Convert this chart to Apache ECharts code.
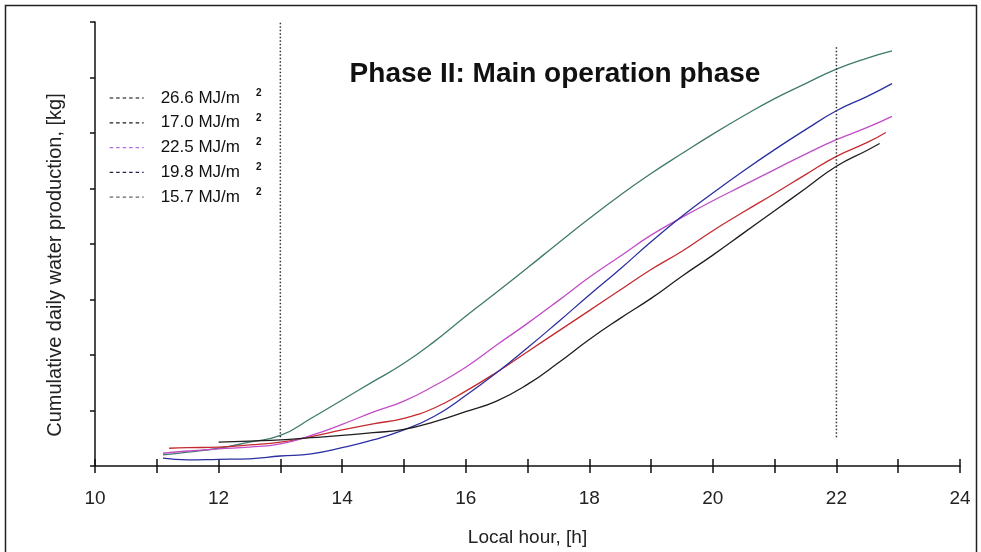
<!DOCTYPE html>
<html>
<head>
<meta charset="utf-8">
<script src="https://cdn.jsdelivr.net/npm/echarts@6/dist/echarts.min.js"></script>
<style>
  html, body { margin: 0; padding: 0; background: #fff; }
  #chart { width: 981px; height: 552px; }
</style>
</head>
<body>
<div id="chart"></div>
<script>
// hours sampled along each curve
var hoursEarly = [11.1, 11.5, 12, 12.5, 13, 13.5, 14, 14.5, 15, 15.5, 16, 16.5, 17, 17.5, 18, 18.5, 19, 19.5, 20, 20.5, 21, 21.5, 22, 22.5, 22.9];
var hoursRed = [11.2, 11.5, 12, 12.5, 13, 13.5, 14, 14.5, 15, 15.5, 16, 16.5, 17, 17.5, 18, 18.5, 19, 19.5, 20, 20.5, 21, 21.5, 22, 22.5, 22.8];
var hoursLate = [12, 12.5, 13, 13.5, 14, 14.5, 15, 15.5, 16, 16.5, 17, 17.5, 18, 18.5, 19, 19.5, 20, 20.5, 21, 21.5, 22, 22.5, 22.7];

// cumulative water production (axis units)
var mj266 = [0.20, 0.25, 0.32, 0.43, 0.55, 0.86, 1.19, 1.52, 1.85, 2.25, 2.70, 3.13, 3.57, 4.02, 4.46, 4.88, 5.27, 5.63, 5.98, 6.31, 6.62, 6.89, 7.15, 7.35, 7.48];
var mj225 = [0.23, 0.27, 0.31, 0.34, 0.40, 0.55, 0.75, 0.97, 1.17, 1.45, 1.78, 2.18, 2.57, 2.98, 3.40, 3.78, 4.16, 4.48, 4.78, 5.06, 5.34, 5.62, 5.88, 6.10, 6.30];
var mj198 = [0.14, 0.11, 0.12, 0.13, 0.18, 0.22, 0.33, 0.47, 0.65, 0.90, 1.27, 1.68, 2.13, 2.60, 3.08, 3.55, 4.04, 4.50, 4.92, 5.32, 5.70, 6.06, 6.40, 6.66, 6.89];
var mj170 = [0.32, 0.33, 0.34, 0.38, 0.43, 0.53, 0.65, 0.76, 0.86, 1.05, 1.35, 1.69, 2.06, 2.43, 2.80, 3.17, 3.54, 3.87, 4.24, 4.58, 4.91, 5.25, 5.58, 5.83, 6.01];
var mj157 = [0.43, 0.45, 0.47, 0.51, 0.55, 0.60, 0.66, 0.80, 0.98, 1.17, 1.47, 1.86, 2.28, 2.66, 3.02, 3.42, 3.80, 4.20, 4.60, 5.00, 5.40, 5.69, 5.81];

var legendNames = ['26.6 MJ/m²', '17.0 MJ/m²', '22.5 MJ/m²', '19.8 MJ/m²', '15.7 MJ/m²'];
var legendColors = ['#555555', '#1a1a1a', '#b070d8', '#22224a', '#666666'];

// phase boundaries [hour, bottom, top]
var phaseStart = [13, 0.52, 8.0];
var phaseEnd = [22, 0.52, 7.57];

function pairs(xs, ys) {
    return ys.map(function (v, i) { return [xs[i], v]; });
}

var chart = echarts.init(document.getElementById('chart'));

function curve(name, color, xs, ys) {
    return {
        name: name,
        type: 'line',
        smooth: true,
        symbol: 'none',
        animation: false,
        lineStyle: { color: color, width: 1.3 },
        itemStyle: { color: color },
        data: pairs(xs, ys)
    };
}

function boundary(b) {
    return {
        type: 'line',
        symbol: 'none',
        animation: false,
        silent: true,
        lineStyle: { color: '#333', width: 1.5, type: [1.5, 2] },
        data: [[b[0], b[1]], [b[0], b[2]]]
    };
}

chart.setOption({
    backgroundColor: '#fff',
    title: {
        text: 'Phase II: Main operation phase',
        left: 550,
        top: 55,
        textAlign: 'center',
        textStyle: { fontFamily: 'Liberation Sans', fontWeight: 'bold', fontSize: 28, color: '#111' }
    },
    grid: { left: 95, right: 21, top: 22, bottom: 86 },
    legend: {
        orient: 'vertical',
        left: 104,
        top: 83,
        itemWidth: 34,
        itemHeight: 14,
        itemGap: 6.3,
        selectedMode: false,
        data: legendNames.map(function (n, i) {
            return {
                name: n,
                itemStyle: { color: 'rgba(0,0,0,0)', borderWidth: 0 },
                lineStyle: { color: legendColors[i], type: [3.5, 3], width: 1.3 }
            };
        }),
        formatter: function (n) { return '{a|' + n.replace('²', '') + '}{s|2}'; },
        textStyle: {
            padding: [0, 0, 0, 12],
            rich: {
                a: { fontFamily: 'Liberation Sans', fontSize: 17, color: '#111' },
                s: { fontFamily: 'Liberation Sans', fontSize: 10, fontWeight: 'bold', color: '#111', verticalAlign: 'top', padding: [0, 0, 10, 16] }
            }
        }
    },
    xAxis: [{
        type: 'value',
        min: 10,
        max: 24,
        interval: 1,
        name: 'Local hour, [h]',
        nameLocation: 'middle',
        nameGap: 62,
        nameTextStyle: { fontFamily: 'Liberation Sans Narrow, Liberation Sans', fontSize: 19, color: '#222' },
        axisLine: { lineStyle: { color: '#111', width: 1.5 } },
        axisTick: { length: 7, lineStyle: { color: '#111', width: 1.5 } },
        axisLabel: {
            margin: 23,
            fontFamily: 'Liberation Sans Narrow, Liberation Sans',
            fontSize: 19,
            color: '#222',
            formatter: function (v) { return v % 2 === 0 ? String(v) : ''; }
        },
        splitLine: { show: false }
    }, {
        type: 'value',
        min: 10,
        max: 24,
        interval: 1,
        position: 'bottom',
        axisLine: { show: false },
        axisTick: { inside: true, length: 7, lineStyle: { color: '#111', width: 1.5 } },
        axisLabel: { show: false },
        splitLine: { show: false }
    }],
    yAxis: {
        type: 'value',
        min: 0,
        max: 8,
        interval: 1,
        axisLine: { show: true, lineStyle: { color: '#111', width: 1.5 } },
        axisTick: { show: true, length: 5, lineStyle: { color: '#111', width: 1.5 } },
        axisLabel: { show: false },
        splitLine: { show: false }
    },
    graphic: [{
        type: 'rect',
        silent: true,
        shape: { x: 5.5, y: 5.5, width: 971, height: 560 },
        style: { fill: 'none', stroke: '#222', lineWidth: 1.5 }
    }, {
        type: 'text',
        silent: true,
        x: 55,
        y: 265,
        rotation: Math.PI / 2,
        style: {
            text: 'Cumulative daily water production, [kg]',
            fontFamily: 'Liberation Sans',
            fontSize: 20,
            fill: '#222',
            textAlign: 'center',
            textVerticalAlign: 'middle'
        }
    }],
    series: [
        curve('26.6 MJ/m²', '#3f7a6c', hoursEarly, mj266),
        curve('17.0 MJ/m²', '#c42a2e', hoursRed, mj170),
        curve('22.5 MJ/m²', '#c24cc6', hoursEarly, mj225),
        curve('19.8 MJ/m²', '#2b2fa0', hoursEarly, mj198),
        curve('15.7 MJ/m²', '#1e1e1e', hoursLate, mj157),
        boundary(phaseStart),
        boundary(phaseEnd)
    ]
});
</script>
</body>
</html>
